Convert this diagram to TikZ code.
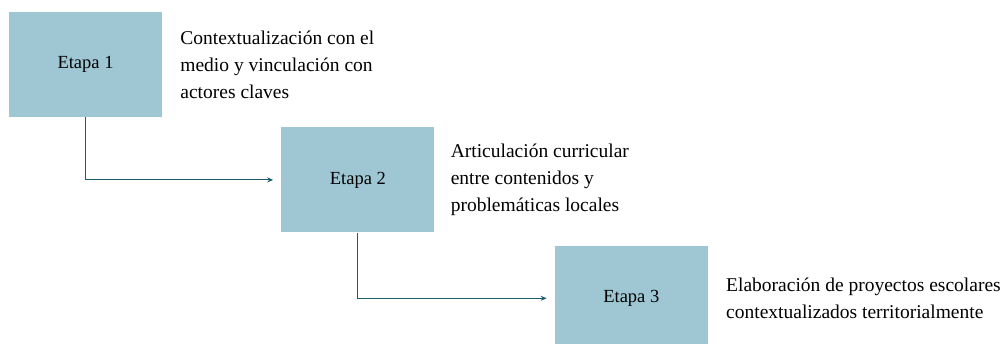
\documentclass[tikz,border=0pt]{standalone}
\usepackage{fontspec}
\setmainfont{Liberation Serif}
\usetikzlibrary{positioning,arrows.meta}
\definecolor{etapafill}{HTML}{9FC7D3}
\definecolor{flowline}{HTML}{1B5E70}
\tikzset{
	etapa/.style={fill=etapafill, minimum width=153pt, minimum height=105pt, inner sep=0pt, font=\fontsize{18.5}{22}\selectfont},
	desc/.style={anchor=west, align=left, inner sep=0pt, font=\fontsize{19.5}{27}\selectfont},
	flow/.style={draw=flowline, line width=1.1pt, -{Stealth[length=6pt,width=5pt]}, shorten >=8pt}
}

\begin{document}
\begin{tikzpicture}[x=1pt, y=1pt]
		%%%%% START %%%%%
		\useasboundingbox (0, 0) rectangle (1003, -344);
		
		\node[etapa] (e1) at (85.5, -64.5) {Etapa 1};
		\node[etapa, below right=10pt and 119pt of e1.south east, anchor=north west] (e2) {Etapa 2};
		\node[etapa, below right=13pt and 120pt of e2.south east, anchor=north west] (e3) {Etapa 3};
		
		\node[desc, right=18pt of e1.east] (d1) {Contextualización con el\\medio y vinculación con\\actores claves};
		\node[desc, right=16pt of e2.east] (d2) {Articulación curricular\\entre contenidos y\\problemáticas locales};
		\node[desc, right=18pt of e3.east] (d3) {Elaboración de proyectos escolares\\contextualizados territorialmente};
		
		\draw[flow] (e1.south) |- (e2.west);
		\draw[flow] (e2.south) |- (e3.west);
		%%%%% END %%%%%
	\end{tikzpicture}
\end{document}
